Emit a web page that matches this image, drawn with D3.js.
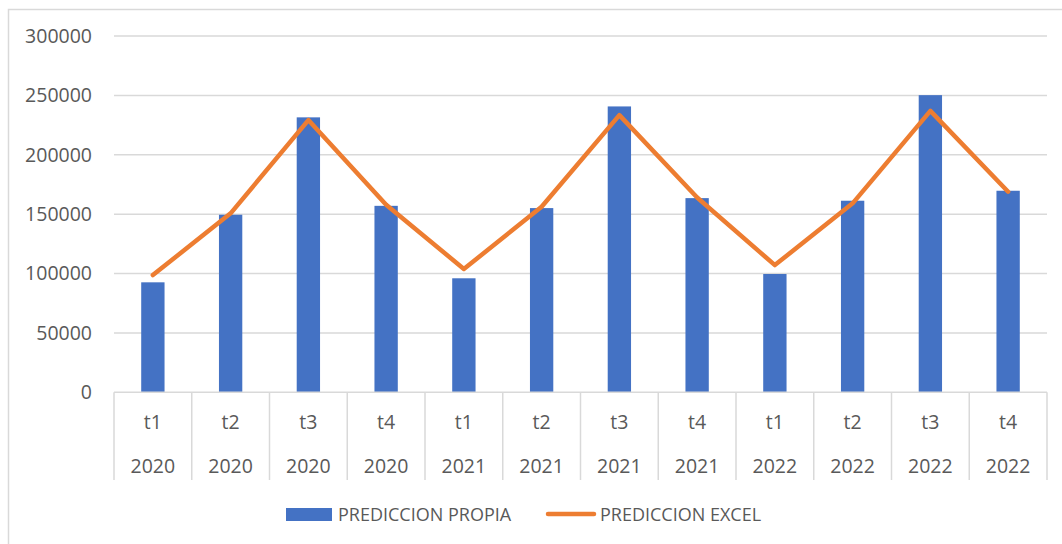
<!DOCTYPE html>
<html>
<head>
<meta charset="utf-8">
<script src="https://cdn.jsdelivr.net/npm/d3@7"></script>
<style>
  html, body { margin: 0; padding: 0; background: #fff; }
  svg { display: block; }
  text { font-family: "Open Sans", sans-serif; fill: #595959; }
</style>
</head>
<body>
<svg id="chart" width="1062" height="544"></svg>
<script>
const quarters = ["t1","t2","t3","t4","t1","t2","t3","t4","t1","t2","t3","t4"];
const years = ["2020","2020","2020","2020","2021","2021","2021","2021","2022","2022","2022","2022"];
const prediccionPropia = [92600, 149500, 231500, 157000, 96000, 155100, 240700, 163500, 99600, 161300, 250200, 169700];
const prediccionExcel = [98700, 150700, 229200, 158000, 103800, 156200, 233400, 164000, 107100, 159100, 237000, 168900];
const yTicks = [0, 50000, 100000, 150000, 200000, 250000, 300000];
const seriesNames = ["PREDICCION PROPIA", "PREDICCION EXCEL"];

const BLUE = "#4472C4", ORANGE = "#ED7D31", GRID = "#d9d9d9";
const svg = d3.select("#chart");

// outer chart border
svg.append("rect").attr("x", 8.5).attr("y", 9.5).attr("width", 1100).attr("height", 600)
  .attr("fill", "none").attr("stroke", GRID).attr("stroke-width", 1.5);

const plot = { left: 114, right: 1047, top: 36, bottom: 392.3 };
const keys = quarters.map((q, i) => i);
const x = d3.scaleBand().domain(keys).range([plot.left, plot.right]).paddingInner(0).paddingOuter(0);
const y = d3.scaleLinear().domain([0, 300000]).range([plot.bottom, plot.top]);

// gridlines
svg.append("g").selectAll("line").data(yTicks.filter(d => d > 0)).join("line")
  .attr("x1", plot.left).attr("x2", plot.right)
  .attr("y1", d => y(d)).attr("y2", d => y(d))
  .attr("stroke", GRID).attr("stroke-width", 1.5);

// y axis labels
const yAxis = d3.axisLeft(y).tickValues(yTicks).tickSize(0).tickPadding(22).tickFormat(d3.format("d"));
const yg = svg.append("g").attr("transform", `translate(${plot.left},0)`).call(yAxis);
yg.select(".domain").remove();
yg.selectAll("text").style("font-size", "19.5px").attr("fill", "#595959").style("font-family", '"Open Sans", sans-serif');

// bars
const bw = x.bandwidth();
svg.append("g").selectAll("rect").data(prediccionPropia).join("rect")
  .attr("x", (d, i) => x(i) + bw * 0.35)
  .attr("width", bw * 0.3)
  .attr("y", d => y(d))
  .attr("height", d => y(0) - y(d))
  .attr("fill", BLUE);

// category axis: baseline and separators
svg.append("line").attr("x1", plot.left).attr("x2", plot.right)
  .attr("y1", plot.bottom).attr("y2", plot.bottom).attr("stroke", GRID).attr("stroke-width", 1.5);
const seps = keys.map(k => x(k)).concat([plot.right]);
svg.append("g").selectAll("line").data(seps).join("line")
  .attr("x1", d => d).attr("x2", d => d)
  .attr("y1", plot.bottom).attr("y2", 480)
  .attr("stroke", GRID).attr("stroke-width", 1.5);

svg.append("g").selectAll("text").data(quarters).join("text")
  .attr("x", (d, i) => x(i) + bw / 2).attr("y", 429)
  .attr("text-anchor", "middle").style("font-size", "19.5px").text(d => d);
svg.append("g").selectAll("text").data(years).join("text")
  .attr("x", (d, i) => x(i) + bw / 2).attr("y", 473)
  .attr("text-anchor", "middle").style("font-size", "19.5px").text(d => d);

// line
const line = d3.line().x((d, i) => x(i) + bw / 2).y(d => y(d));
svg.append("path").datum(prediccionExcel).attr("d", line)
  .attr("fill", "none").attr("stroke", ORANGE).attr("stroke-width", 4.5)
  .attr("stroke-linejoin", "round").attr("stroke-linecap", "round");

// legend
const lg = svg.append("g");
lg.append("rect").attr("x", 286).attr("y", 508).attr("width", 46).attr("height", 13).attr("fill", BLUE);
lg.append("text").attr("x", 338).attr("y", 521).style("font-size", "18px").text(seriesNames[0]);
lg.append("line").attr("x1", 548).attr("x2", 594).attr("y1", 514).attr("y2", 514)
  .attr("stroke", ORANGE).attr("stroke-width", 4.5).attr("stroke-linecap", "round");
lg.append("text").attr("x", 600).attr("y", 521).style("font-size", "18px").text(seriesNames[1]);
</script>
</body>
</html>
